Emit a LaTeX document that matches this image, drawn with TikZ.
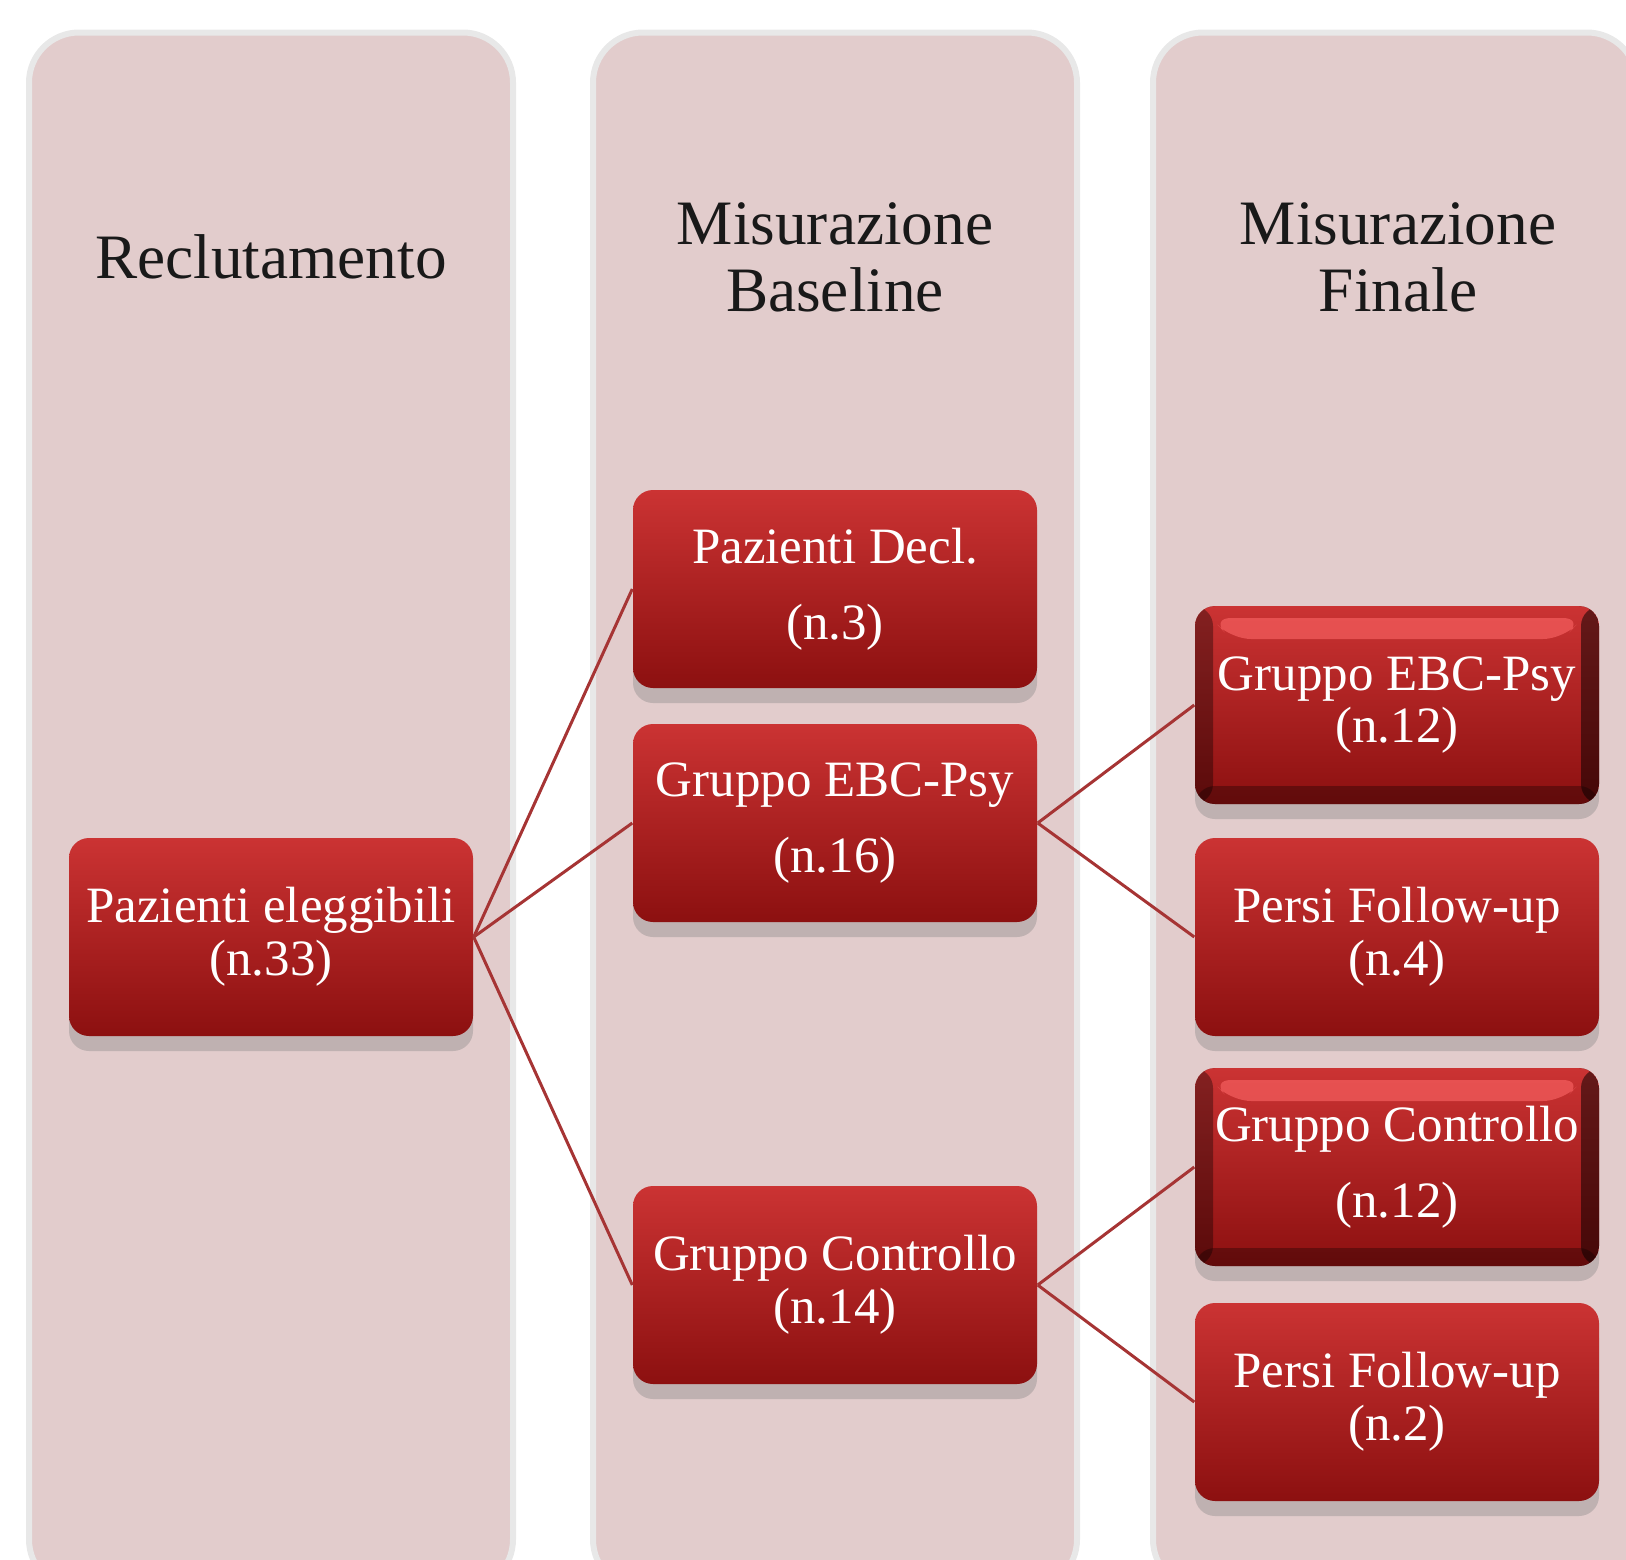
\documentclass[tikz,border=0pt]{standalone}
\usepackage{fontspec}
\setmainfont{Liberation Serif}
\usepackage{xcolor}
\usetikzlibrary{positioning,calc,shadows}
\definecolor{panelpink}{RGB}{226,204,204}
\definecolor{boxtop}{RGB}{203,51,51}
\definecolor{boxbot}{RGB}{140,16,16}
\definecolor{linkred}{RGB}{166,52,52}
\definecolor{glint}{RGB}{245,95,95}

\begin{document}
\begin{tikzpicture}[x=0.1mm, y=-0.1mm,
  col/.style={draw=black!9, line width=0.6mm, fill=panelpink, rounded corners=5mm, minimum width=48.4mm, minimum height=155.7mm},
  hd/.style={font=\fontsize{18}{19}\selectfont, text=black!90, align=center},
  box/.style={rounded corners=2mm, top color=boxtop, bottom color=boxbot, minimum width=40.4mm, minimum height=19.8mm, inner sep=1mm, text=white, align=center, font=\fontsize{14.5}{15}\selectfont, drop shadow={shadow xshift=0mm, shadow yshift=-1.5mm, opacity=.35}},
  boxb/.style={box, path picture={
    \fill[black, opacity=.35] (path picture bounding box.north west) rectangle ($(path picture bounding box.south west)+(18,0)$);
    \fill[black, opacity=.5] ($(path picture bounding box.north east)+(-18,0)$) rectangle (path picture bounding box.south east);
    \fill[black, opacity=.3] ($(path picture bounding box.south west)+(0,-18)$) rectangle (path picture bounding box.south east);
    \fill[glint, opacity=.7] ($(path picture bounding box.north west)+(16,12)$) -- ($(path picture bounding box.north east)+(-16,12)$) -- ($(path picture bounding box.north east)+(-36,33)$) -- ($(path picture bounding box.north west)+(36,33)$) -- cycle;
  }},
  lnk/.style={draw=linkred, line width=0.3mm}
]
\useasboundingbox (0,0) rectangle (1626,1560);
\clip (0,0) rectangle (1626,1560);

\node[col] (c1) at (271,811) {};
\node[col] (c2) at (835,811) {};
\node[col] (c3) at (1395,811) {};

\node[hd] (h1) at (271,257) {Reclutamento};
\node[hd] (h2) at (835,257) {Misurazione\\Baseline};
\node[hd] (h3) at (1398,257) {Misurazione\\Finale};

\node[box] (elig) at (271,937) {Pazienti eleggibili\\(n.33)};
\node[box] (decl) at (835,589) {Pazienti Decl.\\[6.5pt](n.3)};
\node[box] (ebc) at (835,823) {Gruppo EBC-Psy\\[6.5pt](n.16)};
\node[box] (ctrl) at (835,1285) {Gruppo Controllo\\(n.14)};
\node[boxb] (ebcf) at (1397,705) {Gruppo EBC-Psy\\(n.12)};
\node[box] (persa) at (1397,937) {Persi Follow-up\\(n.4)};
\node[boxb] (ctrlf) at (1397,1167) {Gruppo Controllo\\[6.5pt](n.12)};
\node[box] (persb) at (1397,1402) {Persi Follow-up\\(n.2)};

\draw[lnk] (elig.east) -- (decl.west);
\draw[lnk] (elig.east) -- (ebc.west);
\draw[lnk] (elig.east) -- (ctrl.west);
\draw[lnk] (ebc.east) -- (ebcf.west);
\draw[lnk] (ebc.east) -- (persa.west);
\draw[lnk] (ctrl.east) -- (ctrlf.west);
\draw[lnk] (ctrl.east) -- (persb.west);
\end{tikzpicture}
\end{document}
